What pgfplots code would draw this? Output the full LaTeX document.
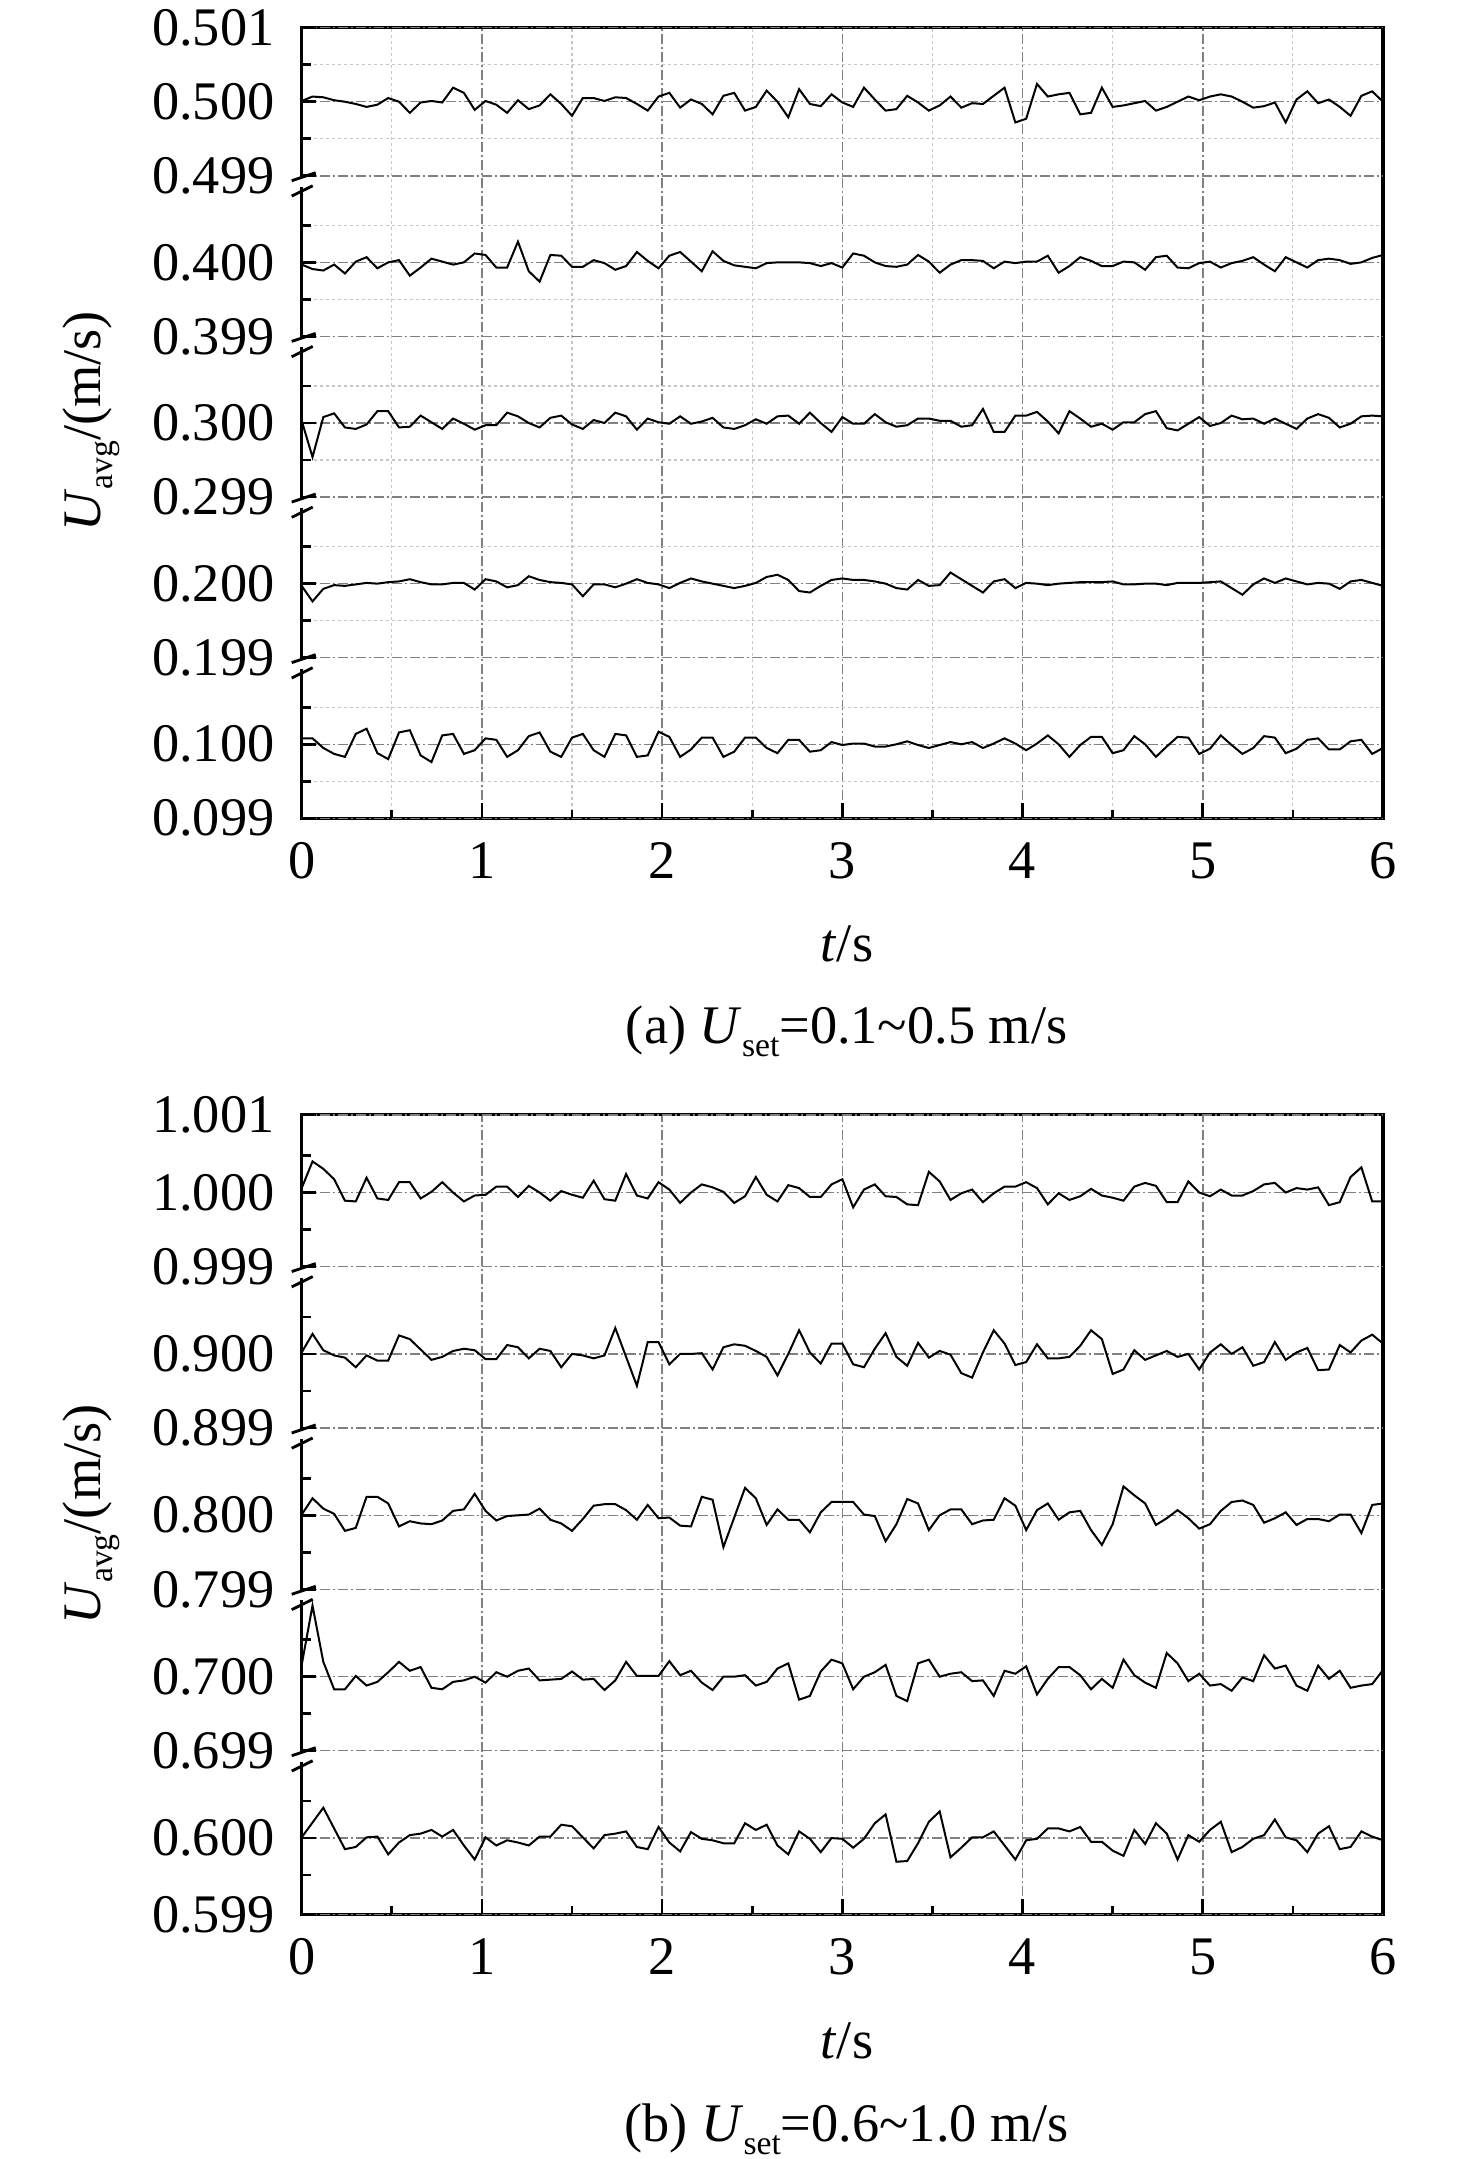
\documentclass[border=0pt]{standalone}
\usepackage{fontspec}
\setmainfont{Liberation Serif}
\usepackage{pgfplots}
\usepackage{pgfplotstable}
\pgfplotsset{compat=1.18}

\newcommand\lblfont{\fontsize{16.3}{19.5}\selectfont}
\newcommand\sub[1]{\raisebox{-3.8pt}{\fontsize{10.1}{11}\selectfont #1}}

% panel (a): U_set = 0.1 ... 0.5 m/s
\pgfplotstableread{
t u1 u2 u3 u4 u5
0.00 0.10008 0.19997 0.30003 0.39997 0.50001
0.06 0.10008 0.19976 0.29954 0.39991 0.50007
0.12 0.09995 0.19993 0.30008 0.39989 0.50006
0.18 0.09987 0.19998 0.30013 0.39997 0.50002
0.24 0.09983 0.19997 0.29994 0.39985 0.50000
0.30 0.10014 0.19999 0.29992 0.40001 0.49997
0.36 0.10021 0.20001 0.29998 0.40007 0.49993
0.42 0.09988 0.20000 0.30016 0.39992 0.49996
0.48 0.09980 0.20002 0.30016 0.40000 0.50005
0.54 0.10016 0.20003 0.29994 0.40003 0.50000
0.60 0.10019 0.20006 0.29995 0.39982 0.49985
0.66 0.09985 0.20002 0.30010 0.39993 0.49999
0.72 0.09976 0.19999 0.30001 0.40005 0.50001
0.78 0.10012 0.19999 0.29992 0.40001 0.49999
0.84 0.10014 0.20001 0.30006 0.39997 0.50019
0.90 0.09987 0.20001 0.29999 0.40000 0.50012
0.96 0.09992 0.19992 0.29991 0.40012 0.49989
1.02 0.10008 0.20006 0.29997 0.40010 0.50001
1.08 0.10006 0.20003 0.29997 0.39993 0.49996
1.14 0.09983 0.19995 0.30014 0.39993 0.49985
1.20 0.09992 0.19998 0.30009 0.40028 0.50002
1.26 0.10011 0.20010 0.30000 0.39988 0.49990
1.32 0.10016 0.20005 0.29994 0.39974 0.49995
1.38 0.09990 0.20002 0.30007 0.40010 0.50010
1.44 0.09983 0.20001 0.30010 0.40009 0.49997
1.50 0.10009 0.19999 0.29998 0.39994 0.49981
1.56 0.10014 0.19983 0.29992 0.39994 0.50005
1.62 0.09992 0.19999 0.30004 0.40003 0.50005
1.68 0.09983 0.19999 0.30000 0.39999 0.50001
1.74 0.10014 0.19995 0.30014 0.39990 0.50006
1.80 0.10012 0.20000 0.30009 0.39995 0.50005
1.86 0.09983 0.20006 0.29991 0.40014 0.49997
1.92 0.09985 0.20001 0.30006 0.40002 0.49988
1.98 0.10017 0.19999 0.30001 0.39992 0.50007
2.04 0.10010 0.19994 0.29999 0.40009 0.50012
2.10 0.09983 0.20001 0.30009 0.40014 0.49992
2.16 0.09993 0.20007 0.29999 0.40001 0.50003
2.22 0.10009 0.20003 0.30002 0.39988 0.49997
2.28 0.10009 0.20000 0.30007 0.40015 0.49983
2.34 0.09983 0.19997 0.29994 0.40002 0.50008
2.40 0.09990 0.19994 0.29992 0.39996 0.50012
2.46 0.10009 0.19997 0.29997 0.39994 0.49988
2.52 0.10009 0.20001 0.30005 0.39992 0.49993
2.58 0.09995 0.20009 0.29999 0.39999 0.50015
2.64 0.09988 0.20012 0.30009 0.40000 0.50000
2.70 0.10006 0.20005 0.30010 0.40000 0.49979
2.76 0.10006 0.19990 0.29999 0.40000 0.50017
2.82 0.09990 0.19988 0.30014 0.39999 0.49997
2.88 0.09992 0.19997 0.30000 0.39995 0.49994
2.94 0.10003 0.20005 0.29988 0.39999 0.50010
3.00 0.09999 0.20007 0.30008 0.39993 0.49999
3.06 0.10001 0.20005 0.29999 0.40012 0.49993
3.12 0.10001 0.20005 0.29999 0.40009 0.50019
3.18 0.09997 0.20003 0.30012 0.40000 0.50003
3.24 0.09997 0.20000 0.30001 0.39995 0.49988
3.30 0.10000 0.19994 0.29995 0.39994 0.49990
3.36 0.10004 0.19992 0.29997 0.39997 0.50008
3.42 0.09999 0.20005 0.30006 0.40010 0.49999
3.48 0.09995 0.19997 0.30006 0.40001 0.49988
3.54 0.09999 0.19998 0.30003 0.39986 0.49995
3.60 0.10003 0.20015 0.30003 0.39997 0.50007
3.66 0.10000 0.20006 0.29995 0.40003 0.49992
3.72 0.10003 0.19997 0.29997 0.40003 0.49998
3.78 0.09995 0.19988 0.30019 0.40002 0.49997
3.84 0.10001 0.20003 0.29988 0.39992 0.50008
3.90 0.10008 0.20006 0.29988 0.40001 0.50019
3.96 0.10001 0.19994 0.30010 0.39999 0.49972
4.02 0.09992 0.20001 0.30010 0.40001 0.49977
4.08 0.10001 0.20000 0.30015 0.40001 0.50024
4.14 0.10012 0.19998 0.30002 0.40009 0.50007
4.20 0.10000 0.20000 0.29986 0.39986 0.50010
4.26 0.09983 0.20001 0.30016 0.39995 0.50012
4.32 0.09999 0.20002 0.30006 0.40007 0.49983
4.38 0.10010 0.20002 0.29995 0.40002 0.49985
4.44 0.10010 0.20002 0.29999 0.39995 0.50019
4.50 0.09988 0.20003 0.29991 0.39995 0.49993
4.56 0.09992 0.19999 0.30001 0.40001 0.49995
4.62 0.10011 0.19999 0.30001 0.40000 0.49998
4.68 0.10000 0.20000 0.30012 0.39990 0.50001
4.74 0.09983 0.20000 0.30016 0.40007 0.49988
4.80 0.09997 0.19998 0.29993 0.40009 0.49993
4.86 0.10010 0.20001 0.29990 0.39993 0.50000
4.92 0.10009 0.20001 0.29999 0.39992 0.50007
4.98 0.09987 0.20001 0.30008 0.39999 0.50002
5.04 0.09994 0.20002 0.29996 0.40001 0.50007
5.10 0.10012 0.20003 0.30000 0.39993 0.50010
5.16 0.09999 0.19994 0.30010 0.39999 0.50007
5.22 0.09987 0.19985 0.30005 0.40002 0.50000
5.28 0.09995 0.19999 0.30006 0.40007 0.49992
5.34 0.10011 0.20007 0.29999 0.39997 0.49994
5.40 0.10009 0.20001 0.30006 0.39988 0.49999
5.46 0.09988 0.20007 0.29999 0.40007 0.49972
5.52 0.09994 0.20003 0.29992 0.40000 0.50003
5.58 0.10006 0.19999 0.30006 0.39993 0.50014
5.64 0.10008 0.20001 0.30012 0.40003 0.49998
5.70 0.09993 0.20000 0.30007 0.40005 0.50003
5.76 0.09993 0.19993 0.29994 0.40003 0.49993
5.82 0.10004 0.20003 0.29999 0.39998 0.49981
5.88 0.10006 0.20005 0.30009 0.40000 0.50008
5.94 0.09987 0.20001 0.30010 0.40006 0.50014
6.00 0.09995 0.19997 0.30009 0.40010 0.50000
}\dataA

% panel (b): U_set = 0.6 ... 1.0 m/s
\pgfplotstableread{
t u6 u7 u8 u9 u10
0.00 0.60001 0.70016 0.80001 0.90002 1.00006
0.06 0.60021 0.70096 0.80023 0.90027 1.00042
0.12 0.60041 0.70020 0.80009 0.90005 1.00032
0.18 0.60013 0.69983 0.80002 0.89998 1.00018
0.24 0.59985 0.69983 0.79979 0.89995 0.99989
0.30 0.59988 0.70001 0.79983 0.89982 0.99988
0.36 0.60001 0.69988 0.80025 0.89998 1.00020
0.42 0.60002 0.69993 0.80025 0.89991 0.99992
0.48 0.59978 0.70006 0.80016 0.89991 0.99990
0.54 0.59994 0.70020 0.79985 0.90025 1.00014
0.60 0.60004 0.70008 0.79992 0.90020 1.00014
0.66 0.60006 0.70013 0.79989 0.90006 0.99992
0.72 0.60011 0.69985 0.79988 0.89992 1.00001
0.78 0.60002 0.69983 0.79993 0.89996 1.00014
0.84 0.60011 0.69993 0.80006 0.90004 1.00000
0.90 0.59990 0.69995 0.80008 0.90007 0.99988
0.96 0.59971 0.70000 0.80029 0.90005 0.99996
1.02 0.60001 0.69992 0.80006 0.89993 0.99997
1.08 0.59990 0.70006 0.79993 0.89993 1.00008
1.14 0.59997 0.70000 0.79999 0.90012 1.00008
1.20 0.59994 0.70008 0.80000 0.90009 0.99994
1.26 0.59990 0.70011 0.80001 0.89994 1.00009
1.32 0.60002 0.69995 0.80009 0.90007 1.00000
1.38 0.60002 0.69996 0.79994 0.90004 0.99989
1.44 0.60018 0.69997 0.79989 0.89982 1.00002
1.50 0.60016 0.70007 0.79979 0.90000 0.99997
1.56 0.60001 0.69996 0.79995 0.89998 0.99993
1.62 0.59986 0.69997 0.80013 0.89994 1.00016
1.68 0.60004 0.69982 0.80015 0.89998 0.99991
1.74 0.60006 0.69995 0.80015 0.90035 0.99989
1.80 0.60009 0.70020 0.80007 0.89996 1.00025
1.86 0.59988 0.70001 0.79994 0.89957 0.99996
1.92 0.59985 0.70001 0.80014 0.90016 0.99992
1.98 0.60015 0.70001 0.79996 0.90016 1.00014
2.04 0.59994 0.70021 0.79997 0.89986 1.00004
2.10 0.59982 0.70002 0.79986 0.90000 0.99986
2.16 0.60008 0.70008 0.79985 0.90000 1.00000
2.22 0.59999 0.69992 0.80025 0.90001 1.00011
2.28 0.59997 0.69982 0.80021 0.89979 1.00007
2.34 0.59993 0.70000 0.79957 0.90009 1.00001
2.40 0.59993 0.70000 0.79997 0.90013 0.99986
2.46 0.60020 0.70002 0.80037 0.90011 0.99995
2.52 0.60011 0.69988 0.80023 0.90004 1.00021
2.58 0.60018 0.69993 0.79987 0.89996 0.99997
2.64 0.59990 0.70011 0.80008 0.89971 0.99988
2.70 0.59978 0.70018 0.79994 0.90000 1.00010
2.76 0.60009 0.69969 0.79994 0.90032 1.00006
2.82 0.59999 0.69974 0.79977 0.90002 0.99994
2.88 0.59981 0.70007 0.80004 0.89987 0.99994
2.94 0.60000 0.70023 0.80018 0.90014 1.00011
3.00 0.59999 0.70018 0.80018 0.90014 1.00018
3.06 0.59987 0.69983 0.80018 0.89986 0.99980
3.12 0.59999 0.70000 0.80001 0.89982 1.00004
3.18 0.60020 0.70006 0.79999 0.90007 1.00011
3.24 0.60032 0.70016 0.79965 0.90028 0.99995
3.30 0.59968 0.69974 0.79988 0.89996 0.99994
3.36 0.59969 0.69967 0.80022 0.89984 0.99984
3.42 0.59993 0.70018 0.80016 0.90015 0.99983
3.48 0.60022 0.70023 0.79980 0.89995 1.00028
3.54 0.60036 0.70000 0.80000 0.90004 1.00015
3.60 0.59974 0.70004 0.80008 0.89999 0.99990
3.66 0.59987 0.70006 0.80008 0.89974 0.99999
3.72 0.60001 0.69994 0.79988 0.89968 1.00004
3.78 0.60001 0.69995 0.79993 0.90002 0.99987
3.84 0.60009 0.69974 0.79994 0.90032 0.99999
3.90 0.59990 0.70008 0.80023 0.90014 1.00008
3.96 0.59971 0.70004 0.80013 0.89985 1.00008
4.02 0.59997 0.70014 0.79980 0.89989 1.00014
4.08 0.59999 0.69976 0.80007 0.90013 1.00006
4.14 0.60013 0.69997 0.80016 0.89994 0.99984
4.20 0.60013 0.70013 0.79994 0.89994 0.99999
4.26 0.60009 0.70013 0.80004 0.89996 0.99990
4.32 0.60015 0.70002 0.80006 0.90011 0.99995
4.38 0.59995 0.69983 0.79980 0.90032 1.00005
4.44 0.59995 0.69997 0.79960 0.90020 0.99996
4.50 0.59983 0.69985 0.79988 0.89973 0.99993
4.56 0.59976 0.70023 0.80039 0.89979 0.99989
4.62 0.60011 0.70002 0.80027 0.90005 1.00008
4.68 0.59992 0.69992 0.80016 0.89992 1.00013
4.74 0.60020 0.69985 0.79987 0.89998 1.00009
4.80 0.60006 0.70032 0.79996 0.90004 0.99987
4.86 0.59971 0.70018 0.80007 0.89996 0.99987
4.92 0.60004 0.69994 0.79996 0.90000 1.00015
4.98 0.59995 0.70004 0.79982 0.89979 1.00000
5.04 0.60011 0.69988 0.79988 0.90002 0.99995
5.10 0.60022 0.69990 0.80006 0.90013 1.00004
5.16 0.59981 0.69981 0.80018 0.90000 0.99996
5.22 0.59988 0.69999 0.80020 0.90009 0.99996
5.28 0.59999 0.69994 0.80014 0.89984 1.00002
5.34 0.60004 0.70029 0.79990 0.89989 1.00011
5.40 0.60025 0.70011 0.79996 0.90016 1.00013
5.46 0.60001 0.70015 0.80004 0.89992 1.00000
5.52 0.59997 0.69988 0.79987 0.90002 1.00006
5.58 0.59981 0.69981 0.79995 0.90008 1.00004
5.64 0.60006 0.70015 0.79995 0.89978 1.00007
5.70 0.60016 0.69997 0.79992 0.89979 0.99983
5.76 0.59985 0.70008 0.80001 0.90012 0.99987
5.82 0.59988 0.69985 0.80001 0.90002 1.00021
5.88 0.60009 0.69988 0.79976 0.90018 1.00034
5.94 0.60002 0.69990 0.80014 0.90026 0.99988
6.00 0.59997 0.70009 0.80016 0.90014 0.99988
}\dataB

\pgfplotsset{
  brokenaxis/.style={
    scale only axis, width=324.39pt, anchor=north west,
    xmin=0, xmax=6,
    xtick={0,1,2,3,4,5,6}, xticklabels={0,1,2,3,4,5,6},
    minor xtick={0.5,1.5,2.5,3.5,4.5,5.5},
    xtick pos=left, ytick pos=left, tick align=inside,
    axis line style={line width=1pt},
    tick style={line width=0.8pt, black},
    xtick style={/pgfplots/major tick length=4.5pt, /pgfplots/minor tick length=2.4pt},
    ytick style={/pgfplots/major tick length=4.2pt, /pgfplots/minor tick length=2.7pt},
    major grid style={draw=gray, line width=0.45pt, dash pattern=on 3pt off 0.9pt on 0.6pt off 0.9pt},
    minor grid style={draw=gray!45, line width=0.35pt, dash pattern=on 1pt off 0.8pt},
    tick label style={font=\lblfont, inner sep=0pt},
    yticklabel style={anchor=east, xshift=-8pt},
    xticklabel style={anchor=base, yshift=-18.2pt},
    extra y tick style={grid=major, /pgfplots/major tick length=0pt},
  },
  dataline/.style={black, line width=0.6pt, no markers},
}

\newcommand\brk[1]{%
  \fill[white] ([xshift=-1.3pt,yshift=-3.3pt]#1) rectangle ([xshift=1.3pt,yshift=-0.5pt]#1);
  \draw[line width=0.85pt] ([xshift=-3pt,yshift=-1.5pt]#1) -- ([xshift=4.2pt,yshift=0.9pt]#1);
  \draw[line width=0.85pt] ([xshift=-3pt,yshift=-6.1pt]#1) -- ([xshift=3.3pt,yshift=-3pt]#1);
}

\begin{document}
\begin{tikzpicture}
\path[use as bounding box] (0,0) rectangle (442.8pt,-647.7pt);

% ---------------- panel (a)
\begin{axis}[brokenaxis, at={(90.51pt,-8.31pt)}, height=237.18pt,
  ymin=0, ymax=10.68, grid=both,
  ytick={1,3.17,5.34,7.51,9.68}, yticklabels={0.100,0.200,0.300,0.400,0.500},
  extra y ticks={0,2.17,4.34,6.51,8.68,10.68},
  extra y tick labels={0.099,0.199,0.299,0.399,0.499,0.501},
  minor ytick={0.5,1.5,2.67,3.67,4.84,5.84,7.01,8.01,9.18,10.18}]
\addplot[dataline] table[x=t, y expr=(\thisrow{u1}-0.1)*1000+1] {\dataA};
\addplot[dataline] table[x=t, y expr=(\thisrow{u2}-0.2)*1000+3.17] {\dataA};
\addplot[dataline] table[x=t, y expr=(\thisrow{u3}-0.3)*1000+5.34] {\dataA};
\addplot[dataline] table[x=t, y expr=(\thisrow{u4}-0.4)*1000+7.51] {\dataA};
\addplot[dataline] table[x=t, y expr=(\thisrow{u5}-0.5)*1000+9.68] {\dataA};
\coordinate (a1) at (axis cs:0,2.17);
\coordinate (a2) at (axis cs:0,4.34);
\coordinate (a3) at (axis cs:0,6.51);
\coordinate (a4) at (axis cs:0,8.68);
\end{axis}
\brk{a1}\brk{a2}\brk{a3}\brk{a4}

% ---------------- panel (b)
\begin{axis}[brokenaxis, at={(90.51pt,-334.44pt)}, height=239.85pt,
  ymin=0, ymax=10.80, grid=major,
  ytick={1.03,3.21,5.39,7.57,9.75}, yticklabels={0.600,0.700,0.800,0.900,1.000},
  extra y ticks={0,2.21,4.39,6.57,8.75,10.80},
  extra y tick labels={0.599,0.699,0.799,0.899,0.999,1.001},
  minor ytick={0.53,1.53,2.71,3.71,4.89,5.89,7.07,8.07,9.25,10.25}]
\addplot[dataline] table[x=t, y expr=(\thisrow{u6}-0.6)*1000+1.03] {\dataB};
\addplot[dataline] table[x=t, y expr=(\thisrow{u7}-0.7)*1000+3.21] {\dataB};
\addplot[dataline] table[x=t, y expr=(\thisrow{u8}-0.8)*1000+5.39] {\dataB};
\addplot[dataline] table[x=t, y expr=(\thisrow{u9}-0.9)*1000+7.57] {\dataB};
\addplot[dataline] table[x=t, y expr=(\thisrow{u10}-1.0)*1000+9.75] {\dataB};
\coordinate (b1) at (axis cs:0,2.21);
\coordinate (b2) at (axis cs:0,4.39);
\coordinate (b3) at (axis cs:0,6.57);
\coordinate (b4) at (axis cs:0,8.75);
\end{axis}
\brk{b1}\brk{b2}\brk{b3}\brk{b4}

% ---------------- labels
\node[rotate=90, anchor=base, font=\lblfont, inner sep=0pt] at (30pt,-126.4pt) {\textit{U}\sub{avg}/(m/s)};
\node[rotate=90, anchor=base, font=\lblfont, inner sep=0pt] at (30pt,-454.4pt) {\textit{U}\sub{avg}/(m/s)};
\node[anchor=base, font=\lblfont, inner sep=0pt] at (254.1pt,-288.5pt) {\textit{t}/s};
\node[anchor=base, font=\lblfont, inner sep=0pt] at (254.1pt,-617.5pt) {\textit{t}/s};
\node[anchor=base, font=\lblfont, inner sep=0pt] at (254pt,-313pt) {(a) \textit{U}\sub{set}=0.1\textasciitilde0.5 m/s};
\node[anchor=base, font=\lblfont, inner sep=0pt] at (254pt,-642.5pt) {(b) \textit{U}\sub{set}=0.6\textasciitilde1.0 m/s};
\end{tikzpicture}
\end{document}
